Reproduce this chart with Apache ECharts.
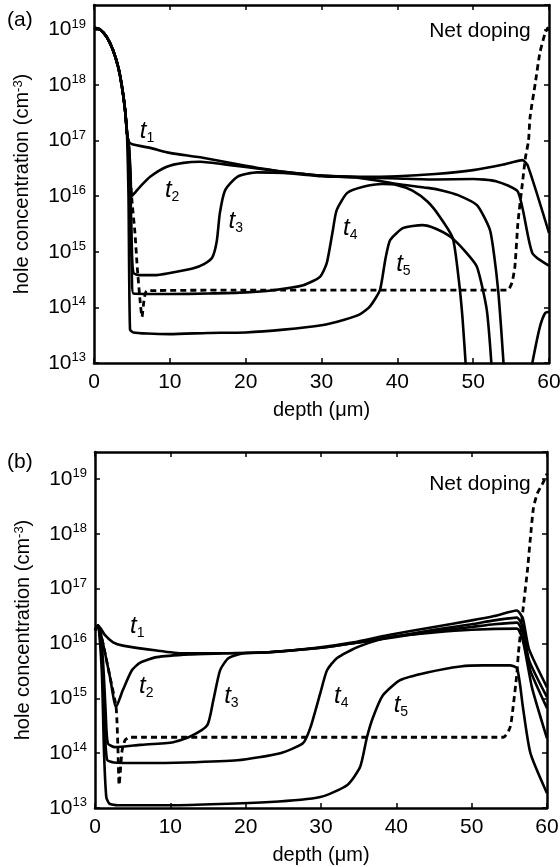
<!DOCTYPE html>
<html><head><meta charset="utf-8">
<script src="https://cdn.jsdelivr.net/npm/echarts@6/dist/echarts.min.js"></script>
<style>html,body{margin:0;padding:0;background:#fff}#c{width:560px;height:867px}</style>
</head><body><div id="c"></div>
<script>
// All values: [depth (µm), log10(hole concentration / cm^-3)]
const xTicks = [0, 10, 20, 30, 40, 50, 60];
const yDecades = [13, 14, 15, 16, 17, 18, 19];
const yTopA = 19.44, yTopB = 19.49;

// ---------- Panel (a) ----------
const a_t1 = [[0,19.03],[0.8,19.0],[1.7,18.86],[2.5,18.63],[3.2,18.32],[3.7,17.96],[4.1,17.55],[4.35,17.14],[4.6,16.98],[5.15,16.93],[7.4,16.87],[10,16.78],[14,16.7],[20,16.55],[25,16.44],[30,16.37],[35,16.35],[40,16.36],[45,16.4],[50,16.47],[54,16.57],[56.5,16.65],[57.2,16.55],[60,15.34]];
const a_t2 = [[0,19.03],[0.8,19.0],[1.7,18.86],[2.5,18.63],[3.2,18.32],[3.7,17.96],[4.1,17.55],[4.35,17.14],[4.6,16.9],[4.8,16.5],[4.97,16.0],[5.5,16.08],[6.07,16.17],[7.4,16.35],[9.6,16.53],[11.8,16.6],[14,16.62],[18,16.56],[22,16.49],[25,16.44],[30,16.37],[35,16.34],[40,16.32],[45,16.3],[50,16.31],[53,16.27],[55.9,16.08],[57.8,14.98],[60,14.75]];
const a_t3 = [[0,19.03],[0.8,19.0],[1.7,18.86],[2.5,18.63],[3.2,18.32],[3.7,17.96],[4.1,17.55],[4.35,17.14],[4.6,16.9],[4.8,16.2],[5.0,15.0],[5.2,14.62],[6,14.58],[8,14.58],[10,14.62],[13,14.7],[14.5,14.78],[15.6,14.9],[16.2,15.2],[16.6,15.7],[17.3,16.11],[18.9,16.35],[21.5,16.43],[25,16.42],[30,16.36],[35,16.33],[40,16.22],[44,16.15],[46,16.1],[48,16.02],[50.5,15.84],[52.2,15.4],[52.8,14.9],[53.3,14.3],[53.7,13.6],[54.1,12.8]];
const a_t4 = [[0,19.03],[0.8,19.0],[1.7,18.86],[2.5,18.63],[3.2,18.32],[3.7,17.96],[4.1,17.55],[4.35,17.14],[4.6,16.9],[4.8,16.0],[5.0,14.5],[5.2,14.25],[10,14.24],[15,14.25],[20,14.27],[23.6,14.31],[27.6,14.4],[29.8,14.55],[30.7,14.8],[31.5,15.39],[32,15.75],[33.4,16.06],[35.5,16.17],[38,16.22],[40,16.2],[42,16.1],[44,15.9],[45.5,15.65],[47.3,15.25],[48.1,14.5],[48.6,13.8],[49.1,12.8]];
const a_t5 = [[0,19.03],[0.8,19.0],[1.7,18.86],[2.5,18.63],[3.2,18.32],[3.7,17.96],[4.1,17.55],[4.35,17.14],[4.55,16.0],[4.75,13.6],[5.2,13.55],[7,13.53],[10,13.52],[15,13.54],[20,13.55],[25,13.6],[30,13.68],[33,13.78],[35.1,13.88],[36.4,14.02],[37.7,14.31],[38.4,14.85],[39.05,15.21],[40.8,15.43],[43.3,15.48],[45,15.42],[47,15.27],[49,15.0],[50.5,14.73],[51.8,13.95],[52.5,12.8],[55,null],[57.6,12.8],[57.8,13.0],[58.8,13.65],[59.5,13.9],[60,13.92]];
const a_doping = [[0,19.03],[0.8,19.0],[1.7,18.86],[2.5,18.63],[3.2,18.32],[3.7,17.96],[4.1,17.55],[4.35,17.14],[4.6,16.7],[5.0,15.93],[5.4,15.34],[5.7,14.73],[6.07,14.13],[6.33,13.83],[6.6,14.13],[7.0,14.3],[20,14.31],[40,14.31],[54.5,14.31],[55.1,14.44],[55.5,14.73],[55.9,15.52],[56.5,16.24],[56.9,16.7],[57.3,17.0],[57.5,17.42],[58.2,18.04],[58.8,18.58],[59.5,18.94],[59.9,19.04]];
const a_labels = [[7.0,17.17,'1'],[10.3,16.11,'2'],[18.7,15.55,'3'],[33.8,15.43,'4'],[40.8,14.78,'5']];
const a_note = [[50.9,18.97,'Net doping']];

// ---------- Panel (b) ----------
const b_t1 = [[0,16.24],[0.4,16.33],[1.33,16.15],[2.4,16.02],[3.7,15.96],[8.2,15.87],[11.7,15.82],[16.6,15.82],[23.2,15.84],[29.9,15.93],[34.3,16.02],[38.8,16.15],[45,16.3],[50,16.42],[53,16.5],[56,16.6],[56.8,16.45],[57.6,15.9],[60,15.2]];
const b_t2 = [[0,16.24],[0.4,16.33],[1.06,16.0],[2.0,15.38],[2.8,14.84],[3.7,15.15],[4.9,15.51],[6.0,15.65],[8.2,15.75],[12.6,15.8],[17,15.82],[23,15.84],[30,15.92],[35,16.02],[40,16.13],[45,16.25],[50,16.35],[53,16.42],[56,16.47],[56.8,16.3],[57.6,15.7],[60,15.02]];
const b_t3 = [[0,16.24],[0.4,16.33],[1.0,15.8],[1.4,14.8],[1.7,14.18],[2.66,14.11],[6,14.15],[10.4,14.2],[12.6,14.3],[14.9,14.51],[15.7,14.96],[16.6,15.51],[17.7,15.73],[19.7,15.82],[23,15.84],[30,15.92],[35,16.02],[40,16.12],[45,16.22],[50,16.3],[53,16.35],[56,16.38],[56.8,16.2],[57.8,15.5],[60,14.82]];
const b_t4 = [[0,16.24],[0.4,16.33],[1.0,15.6],[1.3,14.5],[1.6,13.88],[2.5,13.83],[6,13.82],[12,13.83],[18.9,13.87],[24.6,14.0],[27.6,14.18],[28.6,14.47],[29.9,15.09],[30.8,15.51],[32.1,15.73],[34.8,15.93],[38.8,16.11],[45,16.2],[50,16.25],[56,16.27],[56.8,16.05],[58,15.2],[60,14.27]];
const b_t5 = [[0,16.24],[0.4,16.33],[0.9,15.5],[1.2,14.0],[1.5,13.2],[1.9,13.08],[3,13.05],[10,13.05],[23.2,13.11],[29.9,13.2],[33.5,13.42],[35.2,13.75],[36.1,14.29],[36.9,14.65],[38.2,15.05],[40.5,15.33],[44.1,15.47],[48.5,15.58],[51.5,15.6],[55.1,15.6],[56,15.55],[56.4,15.27],[56.8,14.84],[57.8,14.0],[60,13.27]];
const b_doping = [[0,16.24],[0.4,16.33],[1.06,16.0],[2.0,15.38],[2.8,14.84],[3.05,14.05],[3.2,13.42],[3.6,14.05],[4.0,14.24],[4.65,14.29],[20,14.29],[40,14.29],[54.2,14.29],[55.1,14.47],[55.5,14.84],[56.0,15.45],[56.2,15.82],[56.8,16.6],[57.4,17.33],[57.8,17.93],[58.2,18.47],[58.7,18.73],[59.4,18.91],[60,19.09]];
const b_labels = [[5.6,16.31,'1'],[6.8,15.22,'2'],[18.1,15.04,'3'],[32.7,15.04,'4'],[40.6,14.87,'5']];
const b_note = [[51.1,18.91,'Net doping']];

const FONT = '"Liberation Sans", Arial, Helvetica, sans-serif';
const toData = arr => arr.map(p => [p[0], p[1] == null ? '-' : Math.pow(10, p[1])]);

const tickStyle = {show: true, inside: true, length: 5, lineStyle: {color: '#000', width: 1.5}};
const lineAx = {show: true, onZero: false, lineStyle: {color: '#000', width: 2.5}};

function xAxes(gi) {
  return [{
    gridIndex: gi, type: 'value', min: xTicks[0], max: xTicks[xTicks.length - 1], interval: 10,
    position: 'bottom', axisLine: lineAx, axisTick: tickStyle, splitLine: {show: false},
    axisLabel: {color: '#000', fontSize: 21, fontFamily: FONT, margin: 9},
    name: 'depth (\u03bcm)', nameLocation: 'middle', nameGap: 37,
    nameTextStyle: {color: '#000', fontSize: 20, fontFamily: FONT}
  }, {
    gridIndex: gi, type: 'value', min: xTicks[0], max: xTicks[xTicks.length - 1], interval: 10,
    position: 'top', axisLine: lineAx, axisTick: tickStyle, splitLine: {show: false},
    axisLabel: {show: false}
  }];
}
function yAxes(gi, top) {
  return [{
    gridIndex: gi, type: 'log', logBase: 10, min: Math.pow(10, yDecades[0]), max: Math.pow(10, top),
    position: 'left', axisLine: lineAx, axisTick: tickStyle, splitLine: {show: false}, minorTick: {show: false},
    axisLabel: {
      color: '#000', fontFamily: FONT, margin: 8, showMaxLabel: false,
      formatter: v => '{b|10}{s|' + Math.round(Math.log10(v)) + '}',
      rich: {
        b: {fontSize: 21, lineHeight: 24, fontFamily: FONT, color: '#000'},
        s: {fontSize: 13, lineHeight: 13, verticalAlign: 'top', fontFamily: FONT, color: '#000'}
      }
    },
    name: 'hole concentration (cm{s|-3})', nameLocation: 'middle', nameGap: 62,
    nameTextStyle: {
      color: '#000', fontSize: 20, fontFamily: FONT,
      rich: {s: {fontSize: 13, lineHeight: 13, verticalAlign: 'top', fontFamily: FONT, color: '#000'}}
    }
  }, {
    gridIndex: gi, type: 'log', logBase: 10, min: Math.pow(10, yDecades[0]), max: Math.pow(10, top),
    position: 'right', axisLine: lineAx, axisTick: tickStyle, splitLine: {show: false},
    axisLabel: {show: false}
  }];
}

function curve(data, xi, yi, dashed) {
  return {
    type: 'line', xAxisIndex: xi, yAxisIndex: yi, data: toData(data),
    showSymbol: false, symbol: 'none', clip: true, silent: true, animation: false,
    smooth: 0.2,
    lineStyle: {color: '#000', width: dashed ? 2.8 : 2.6, type: dashed ? [6, 4] : 'solid', cap: 'butt', join: 'round'},
    z: dashed ? 3 : 2
  };
}
function tLabels(data, xi, yi) {
  return {
    type: 'scatter', xAxisIndex: xi, yAxisIndex: yi, symbolSize: 0, silent: true, animation: false,
    itemStyle: {opacity: 1, color: '#000'},
    data: data.map(p => ({value: [p[0], Math.pow(10, p[1])], sub: p[2]})),
    label: {
      show: true, position: 'inside', opacity: 1, textBorderWidth: 0,
      formatter: prm => '{t|t}{s|' + prm.data.sub + '}',
      rich: {
        t: {fontSize: 24, fontStyle: 'italic', lineHeight: 28, fontFamily: FONT, color: '#000', textBorderWidth: 0},
        s: {fontSize: 14, lineHeight: 16, verticalAlign: 'bottom', fontFamily: FONT, color: '#000', textBorderWidth: 0}
      }
    }, z: 5
  };
}
function note(data, xi, yi) {
  return {
    type: 'scatter', xAxisIndex: xi, yAxisIndex: yi, symbolSize: 0, silent: true, animation: false,
    itemStyle: {opacity: 1, color: '#000'},
    data: data.map(p => ({value: [p[0], Math.pow(10, p[1])], txt: p[2]})),
    label: {show: true, position: 'inside', formatter: prm => prm.data.txt, opacity: 1,
      textBorderWidth: 0, fontSize: 21, fontFamily: FONT, color: '#000'}, z: 5
  };
}

const option = {
  backgroundColor: '#fff',
  animation: false,
  title: [
    {text: '(a)', left: 7, top: 10, padding: 0, textStyle: {fontSize: 21, fontWeight: 'normal', fontFamily: FONT, color: '#000'}},
    {text: '(b)', left: 7, top: 452, padding: 0, textStyle: {fontSize: 21, fontWeight: 'normal', fontFamily: FONT, color: '#000'}}
  ],
  grid: [
    {left: 94, right: 11, top: 5, height: 358, outerBoundsMode: 'none', containLabel: false},
    {left: 95, right: 13, top: 452, height: 356, outerBoundsMode: 'none', containLabel: false}
  ],
  xAxis: [...xAxes(0), ...xAxes(1)],
  yAxis: [...yAxes(0, yTopA), ...yAxes(1, yTopB)],
  series: [
    curve(a_t1, 0, 0), curve(a_t2, 0, 0), curve(a_t3, 0, 0), curve(a_t4, 0, 0), curve(a_t5, 0, 0),
    curve(a_doping, 0, 0, true),
    tLabels(a_labels, 0, 0), note(a_note, 0, 0),
    curve(b_t1, 2, 2), curve(b_t2, 2, 2), curve(b_t3, 2, 2), curve(b_t4, 2, 2), curve(b_t5, 2, 2),
    curve(b_doping, 2, 2, true),
    tLabels(b_labels, 2, 2), note(b_note, 2, 2)
  ]
};
const chart = echarts.init(document.getElementById('c'));
chart.setOption(option);
</script>
</body></html>
